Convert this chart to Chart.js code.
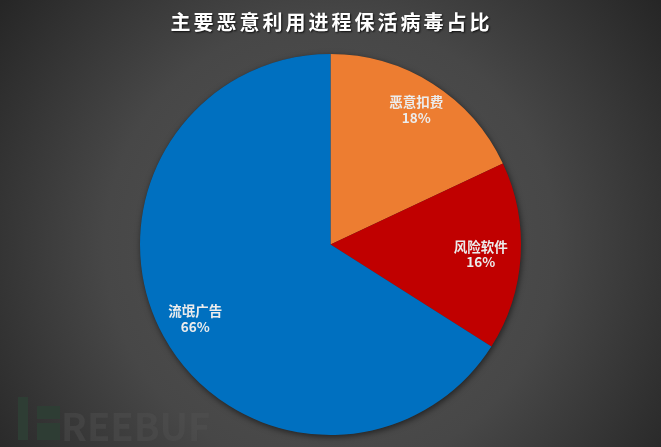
<!DOCTYPE html>
<html>
<head>
<meta charset="utf-8">
<script src="https://cdn.jsdelivr.net/npm/chart.js@4/dist/chart.umd.min.js"></script>
<style>
  html, body { margin: 0; padding: 0; background: #2a2a2a; }
  #wrap { width: 661px; height: 447px; position: relative; }
</style>
</head>
<body>
<div id="wrap"><canvas id="pie"></canvas></div>
<script>
const TITLE = "主要恶意利用进程保活病毒占比";
const LABELS = ["恶意扣费", "风险软件", "流氓广告"];
const VALUES = [18, 16, 66];
const COLORS = ["#ed7d31", "#c00000", "#0070c0"];

const FONT = "'Noto Sans CJK SC', 'Noto Sans', sans-serif";
// how far out (fraction of radius) each slice label sits
const LABEL_DIST = [0.84, 0.79, 0.81];

/* ---------------- background, watermark, title ---------------- */

const backdrop = {
  id: "backdrop",
  beforeDraw(chart) {
    const { ctx, width, height } = chart;
    ctx.save();
    const g = ctx.createRadialGradient(width / 2, height * 0.55, 0, width / 2, height * 0.55, width * 0.62);
    g.addColorStop(0, "#545454");
    g.addColorStop(0.55, "#474747");
    g.addColorStop(1, "#262626");
    ctx.fillStyle = g;
    ctx.fillRect(0, 0, width, height);

    // watermark
    ctx.fillStyle = "#2e3d34";
    ctx.fillRect(18, 397, 10, 43);
    ctx.fillRect(37, 406, 23, 13);
    ctx.fillRect(37, 423, 23, 17);
    ctx.fillStyle = "rgba(85,85,85,0.38)";
    ctx.font = "bold 38px " + FONT;
    ctx.textBaseline = "alphabetic";
    ctx.textAlign = "left";
    ctx.fillText("REEBUF", 61, 441);

    // title
    ctx.font = "bold 20px " + FONT;
    ctx.letterSpacing = "3px";
    ctx.textAlign = "center";
    ctx.textBaseline = "middle";
    ctx.shadowColor = "rgba(0,0,0,0.8)";
    ctx.shadowBlur = 2;
    ctx.shadowOffsetX = 1;
    ctx.shadowOffsetY = 1;
    ctx.fillStyle = "#ffffff";
    ctx.fillText(TITLE, width / 2 + 1, 22);
    ctx.restore();
  },
  beforeDatasetsDraw(chart) {
    const arc = chart.getDatasetMeta(0).data[0];
    if (!arc) return;
    const { ctx } = chart;
    ctx.save();
    ctx.shadowColor = "rgba(0,0,0,0.55)";
    ctx.shadowBlur = 6;
    ctx.shadowOffsetX = 1;
    ctx.shadowOffsetY = 2;
    ctx.fillStyle = "#333";
    ctx.beginPath();
    ctx.arc(arc.x, arc.y, arc.outerRadius, 0, Math.PI * 2);
    ctx.fill();
    ctx.restore();
  },
};

/* ---------------- slice labels ---------------- */

const sliceLabels = {
  id: "sliceLabels",
  afterDatasetsDraw(chart) {
    const { ctx } = chart;
    const meta = chart.getDatasetMeta(0);
    const total = VALUES.reduce((a, b) => a + b, 0);
    ctx.save();
    ctx.fillStyle = "#ececec";
    ctx.textAlign = "center";
    ctx.textBaseline = "middle";
    meta.data.forEach((arc, i) => {
      const mid = (arc.startAngle + arc.endAngle) / 2;
      const r = arc.outerRadius * LABEL_DIST[i];
      const x = arc.x + Math.cos(mid) * r;
      const y = arc.y + Math.sin(mid) * r;
      ctx.font = "bold 13.5px " + FONT;
      ctx.fillText(LABELS[i], x, y - 7.5);
      ctx.fillText(Math.round((VALUES[i] / total) * 100) + "%", x, y + 8);
    });
    ctx.restore();
  },
};

new Chart(document.getElementById("pie"), {
  type: "pie",
  data: {
    labels: LABELS,
    datasets: [{
      data: VALUES,
      backgroundColor: COLORS,
      borderWidth: 0,
    }],
  },
  options: {
    responsive: true,
    maintainAspectRatio: false,
    animation: false,
    layout: { padding: { top: 54, bottom: 12 } },
    plugins: {
      legend: { display: false },
      title: { display: false },
      tooltip: { enabled: false },
    },
  },
  plugins: [backdrop, sliceLabels],
});
</script>
</body>
</html>
